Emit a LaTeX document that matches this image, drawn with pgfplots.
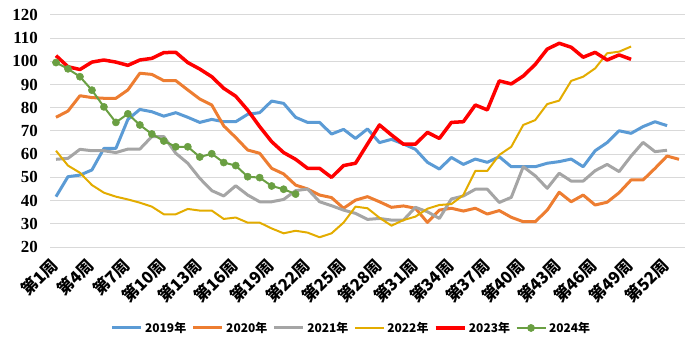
\documentclass[border=0pt]{standalone}
\usepackage{pgfplots}
\pgfplotsset{compat=1.18}
\usepackage{fontspec}
\setmainfont{Liberation Serif}
\newfontfamily\cjk{Noto Sans CJK SC}
\definecolor{c19}{HTML}{5B9BD5}
\definecolor{c20}{HTML}{ED7D31}
\definecolor{c21}{HTML}{A5A5A5}
\definecolor{c22}{HTML}{E3AC00}
\definecolor{c23}{HTML}{FF0000}
\definecolor{c24}{HTML}{6A9F42}
\definecolor{gridc}{HTML}{D9D9D9}
\begin{document}
\begin{tikzpicture}
\useasboundingbox (0,0) rectangle (692bp,343bp);
\begin{axis}[at={(50bp,96bp)}, anchor=south west, scale only axis,
  width=635bp, height=232bp,
  xmin=0.5, xmax=53.5, ymin=20, ymax=120,
  ytick={20,30,...,120},
  xtick={1,4,...,52},
  xticklabels={第1周,第4周,第7周,第10周,第13周,第16周,第19周,第22周,第25周,第28周,第31周,第34周,第37周,第40周,第43周,第46周,第49周,第52周},
  axis line style={draw=none},
  major tick length=0pt,
  ymajorgrids, grid style={draw=gridc, line width=1bp},
  /pgf/number format/assume math mode=true,
  yticklabel style={font=\fontsize{17}{17}\selectfont\bfseries, anchor=east, inner sep=0pt, xshift=-12bp},
  xticklabel style={font=\cjk\bfseries\fontsize{16.5}{16.5}\selectfont, xshift=-1bp, yshift=-15bp, rotate=45, anchor=east, inner sep=0pt},
  legend style={at={(0.475,-0.349)}, anchor=center, draw=none, fill=none,
    legend columns=6, font=\cjk\bfseries\fontsize{12}{12}\selectfont,
    inner xsep=0pt,
    nodes={inner xsep=2.5bp},
    /tikz/every even column/.append style={column sep=3bp},
    /tikz/every odd column/.append style={column sep=0bp}},
  legend image code/.code={\draw[mark repeat=2,mark phase=2,#1] plot coordinates {(0bp,0bp) (14.5bp,0bp) (29bp,0bp)};},
  every axis plot/.append style={line join=round},
]
\addplot[c19, line width=3bp] coordinates {
(1,41.7)(2,50.3)(3,51.0)(4,53.2)(5,62.5)(6,62.5)(7,75.0)(8,79.3)(9,78.3)(10,76.4)
(11,77.9)(12,75.9)(13,73.7)(14,75.0)(15,74.0)(16,74.0)(17,77.2)(18,77.9)(19,82.9)(20,81.9)
(21,75.9)(22,73.7)(23,73.7)(24,68.7)(25,70.7)(26,66.8)(27,70.9)(28,65.0)(29,66.4)(30,64.4)
(31,62.1)(32,56.5)(33,53.6)(34,58.6)(35,55.6)(36,57.9)(37,56.5)(38,58.9)(39,54.6)(40,54.6)
(41,54.6)(42,56.1)(43,56.8)(44,57.9)(45,54.6)(46,61.5)(47,65.0)(48,70.1)(49,69.0)(50,71.9)
(51,74.0)(52,72.3)};
\addlegendentry{2019年}
\addplot[c20, line width=3bp] coordinates {
(1,75.9)(2,78.6)(3,85.2)(4,84.4)(5,84.1)(6,84.1)(7,87.7)(8,94.9)(9,94.4)(10,91.7)
(11,91.7)(12,87.7)(13,83.8)(14,81.2)(15,72.2)(16,67.2)(17,61.8)(18,60.4)(19,53.9)(20,51.5)
(21,46.7)(22,45.0)(23,42.4)(24,41.3)(25,36.7)(26,40.2)(27,41.7)(28,39.5)(29,37.1)(30,37.7)
(31,36.7)(32,30.6)(33,35.9)(34,36.7)(35,35.5)(36,36.7)(37,34.2)(38,35.7)(39,32.8)(40,30.9)
(41,30.9)(42,35.9)(43,43.6)(44,39.5)(45,42.4)(46,38.1)(47,39.3)(48,43.4)(49,48.9)(50,48.9)
(51,53.9)(52,59.2)(53,57.8)};
\addlegendentry{2020年}
\addplot[c21, line width=3bp] coordinates {
(1,57.8)(2,58.2)(3,62.1)(4,61.5)(5,61.5)(6,60.7)(7,62.2)(8,62.2)(9,67.6)(10,67.6)
(11,60.4)(12,56.1)(13,49.6)(14,44.3)(15,42.0)(16,46.4)(17,42.4)(18,39.5)(19,39.5)(20,40.5)
(21,44.3)(22,45.0)(23,39.5)(24,37.8)(25,35.9)(26,34.5)(27,31.9)(28,32.3)(29,31.6)(30,31.6)
(31,37.1)(32,35.2)(33,32.3)(34,40.7)(35,42.0)(36,44.9)(37,44.9)(38,39.2)(39,41.4)(40,54.6)
(41,50.7)(42,45.3)(43,51.8)(44,48.4)(45,48.4)(46,52.9)(47,55.6)(48,52.5)(49,59.2)(50,65.1)
(51,61.1)(52,61.7)};
\addlegendentry{2021年}
\addplot[c22, line width=2bp] coordinates {
(1,61.5)(2,55.1)(3,52.0)(4,46.7)(5,43.4)(6,41.7)(7,40.5)(8,39.1)(9,37.4)(10,34.1)
(11,34.1)(12,36.4)(13,35.7)(14,35.7)(15,32.1)(16,32.7)(17,30.5)(18,30.5)(19,28.0)(20,25.9)
(21,27.0)(22,26.2)(23,24.2)(24,25.9)(25,30.5)(26,37.4)(27,36.7)(28,32.6)(29,29.2)(30,31.6)
(31,33.1)(32,36.5)(33,38.1)(34,38.5)(35,42.4)(36,52.8)(37,52.8)(38,59.7)(39,63.2)(40,72.6)
(41,74.7)(42,81.6)(43,83.1)(44,91.6)(45,93.4)(46,97.0)(47,103.5)(48,104.2)(49,106.4)};
\addlegendentry{2022年}
\addplot[c23, line width=3.5bp] coordinates {
(1,102.5)(2,97.7)(3,96.5)(4,99.7)(5,100.6)(6,99.7)(7,98.3)(8,100.6)(9,101.3)(10,103.8)
(11,103.9)(12,99.5)(13,96.7)(14,93.4)(15,88.4)(16,85.0)(17,79.0)(18,71.9)(19,65.4)(20,60.7)
(21,57.8)(22,53.9)(23,53.9)(24,50.0)(25,55.1)(26,56.1)(27,64.4)(28,72.6)(29,68.3)(30,64.3)
(31,64.3)(32,69.4)(33,66.8)(34,73.7)(35,74.0)(36,81.2)(37,79.1)(38,91.6)(39,90.3)(40,93.7)
(41,98.7)(42,105.3)(43,107.8)(44,106.1)(45,101.8)(46,103.9)(47,100.6)(48,102.8)(49,100.9)};
\addlegendentry{2023年}
\addplot[c24, line width=2bp, mark=*, mark size=3.6bp, mark options={fill=c24, draw=c24, line width=0.5bp}] coordinates {
(1,99.5)(2,96.8)(3,93.4)(4,87.6)(5,80.4)(6,73.7)(7,77.4)(8,72.6)(9,68.7)(10,65.7)
(11,63.2)(12,63.2)(13,58.8)(14,60.2)(15,56.4)(16,55.1)(17,50.3)(18,49.9)(19,46.3)(20,44.9)
(21,42.8)};
\addlegendentry{2024年}
\end{axis}
\end{tikzpicture}
\end{document}
